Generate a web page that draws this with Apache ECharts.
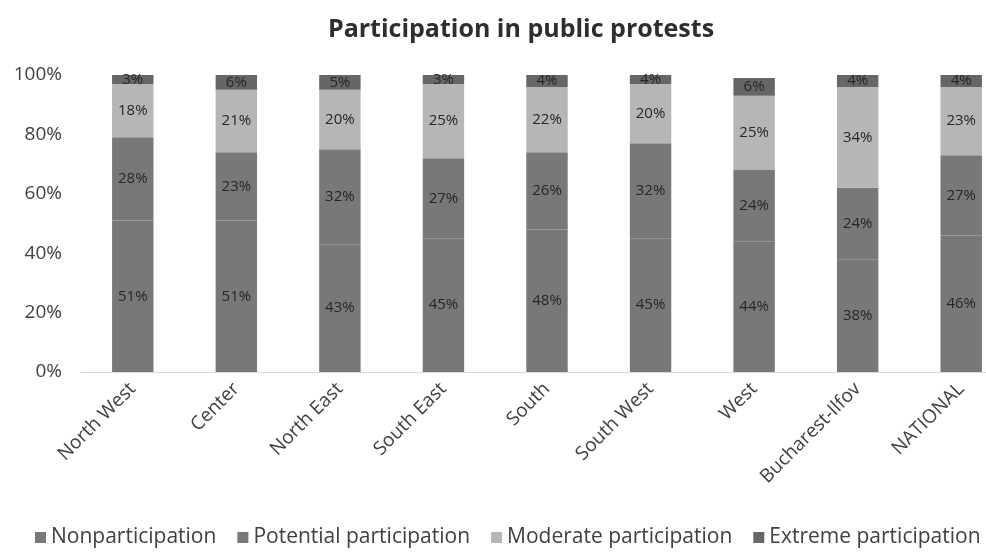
<!DOCTYPE html>
<html>
<head>
<meta charset="utf-8">
<script src="https://cdn.jsdelivr.net/npm/echarts@6/dist/echarts.min.js"></script>
<style>html,body{margin:0;padding:0;background:#fff}#c{width:986px;height:559px}</style>
</head>
<body>
<div id="c"></div>
<script>
var categories = ['North West','Center','North East','South East','South','South West','West','Bucharest-Ilfov','NATIONAL'];
var nonparticipation = [51, 51, 43, 45, 48, 45, 44, 38, 46];
var potential = [28, 23, 32, 27, 26, 32, 24, 24, 27];
var moderate = [18, 21, 20, 25, 22, 20, 25, 34, 23];
var extreme = [3, 6, 5, 3, 4, 4, 6, 4, 4];
var yTicks = [0, 20, 40, 60, 80, 100];

var font = "'Open Sans', sans-serif";
function mk(name, data, color) {
  return {
    name: name, type: 'bar', stack: 'total', data: data, barWidth: '40%',
    itemStyle: { color: color },
    label: { show: true, position: 'inside', formatter: '{c}%', color: '#262626', fontSize: 15, fontFamily: font }
  };
}
var chart = echarts.init(document.getElementById('c'));
chart.setOption({
  animation: false,
  backgroundColor: '#ffffff',
  title: { text: 'Participation in public protests', left: 516, textAlign: 'center', top: 12,
    textStyle: { fontFamily: font, fontWeight: 'bold', fontSize: 25, color: '#2e2e2e' } },
  legend: { bottom: 6, left: 30, width: 956, itemWidth: 11, itemHeight: 11, itemGap: 21, icon: 'rect',
    textStyle: { fontFamily: font, fontSize: 21, color: '#404040' } },
  grid: { left: 81, width: 932, top: 75, bottom: 187, containLabel: false, outerBoundsMode: 'none' },
  xAxis: { type: 'category', data: categories,
    axisLine: { lineStyle: { color: '#d9d9d9', width: 1 } }, axisTick: { show: false },
    axisLabel: { rotate: 45, interval: 0, fontFamily: font, fontSize: 19, color: '#404040', margin: 14 } },
  yAxis: { type: 'value', min: 0, max: 100, interval: 20,
    axisLine: { show: false }, axisTick: { show: false }, splitLine: { show: false },
    axisLabel: { formatter: function(v){ return yTicks.indexOf(v) >= 0 ? v + '%' : ''; }, fontFamily: font, fontSize: 19, color: '#404040', margin: 19 } },
  series: [
    mk('Nonparticipation', nonparticipation, '#787878'),
    mk('Potential participation', potential, '#787878'),
    mk('Moderate participation', moderate, '#b6b6b6'),
    mk('Extreme participation', extreme, '#666666')
  ]
});
</script>
</body>
</html>
